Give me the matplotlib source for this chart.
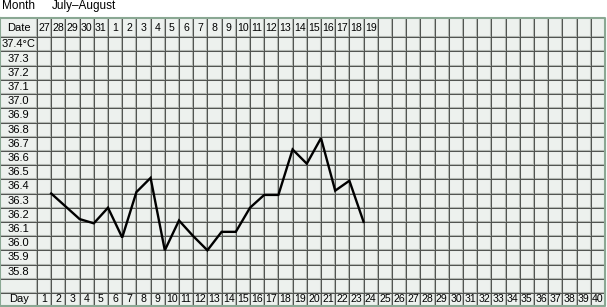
import matplotlib.pyplot as plt
import numpy as np

plt.rcParams['font.family'] = ['Liberation Sans', 'DejaVu Sans']

# ---- data ----
days = list(range(1, 24))
temps = [36.35, 36.26, 36.17, 36.14, 36.25, 36.04, 36.36, 36.46, 35.95, 36.16,
         36.05, 35.95, 36.08, 36.08, 36.25, 36.34, 36.34, 36.66, 36.56, 36.74,
         36.37, 36.44, 36.15]
date_labels = ['27', '28', '29', '30', '31'] + [str(i) for i in range(1, 20)]
day_labels = [str(i) for i in range(1, 41)]
temp_rows = [37.4, 37.3, 37.2, 37.1, 37.0, 36.9, 36.8, 36.7, 36.6, 36.5,
             36.4, 36.3, 36.2, 36.1, 36.0, 35.9, 35.8]
month_text = 'July\u2013August'

n_cols = 40
bg = '#edf1ee'
border = '#8aa893'

fig = plt.figure(figsize=(6.07, 3.07), dpi=100)
ax = fig.add_axes([0, 0, 1, 1])
ax.set_xlim(-37 / 14.2, -37 / 14.2 + 607 / 14.2)
ax.set_ylim(37.4 - (307 - 44.4) / 142, 37.4 + 44.4 / 142)
ax.axis('off')

left = -36.5 / 14.2
top = 37.584
date_bottom = 37.45
day_top = 35.65
bottom = 35.558

ax.fill_between([left, n_cols], bottom, top, color=bg, zorder=0)

# grid lines: dark core with a soft grey edge
def gline(xs, ys):
    ax.plot(xs, ys, color='#b3b8b3', lw=1.5, zorder=1, solid_capstyle='butt')
    ax.plot(xs, ys, color='#4f524f', lw=0.7, zorder=2, solid_capstyle='butt')

for i in range(0, n_cols):
    gline([i, i], [bottom, top])
hlines = [date_bottom] + [v - 0.05 for v in temp_rows] + [day_top]
for y in hlines:
    gline([left, n_cols], [y, y])

# outer border
ax.plot([left, n_cols, n_cols, left, left], [top, top, bottom, bottom, top],
        color=border, lw=1.5, zorder=3)

fs_head = 8.0
fs = 7.6
# header column
ax.text(left / 2, (top + date_bottom) / 2, 'Date', ha='center', va='center', fontsize=fs_head)
for i, v in enumerate(temp_rows):
    lab = f'{v:.1f}' + ('\u00b0C' if i == 0 else '')
    ax.text(left / 2, v, lab, ha='center', va='center', fontsize=fs_head)
ax.text(left / 2, (day_top + bottom) / 2, 'Day', ha='center', va='center', fontsize=fs_head)

for i, lab in enumerate(date_labels):
    ax.text(i + 0.5, (top + date_bottom) / 2, lab, ha='center', va='center', fontsize=fs)
for i, lab in enumerate(day_labels):
    ax.text(i + 0.5, (day_top + bottom) / 2, lab, ha='center', va='center', fontsize=fs)

# title line
ax.text(left + 0.1, top + 0.085, 'Month', ha='left', va='center', fontsize=8.5)
ax.text(left + 3.6, top + 0.085, month_text, ha='left', va='center', fontsize=8.5)

# temperature curve
ax.plot(days, temps, color='black', lw=1.7, zorder=4, solid_joinstyle='miter')

fig.savefig('out.png', dpi=100)
